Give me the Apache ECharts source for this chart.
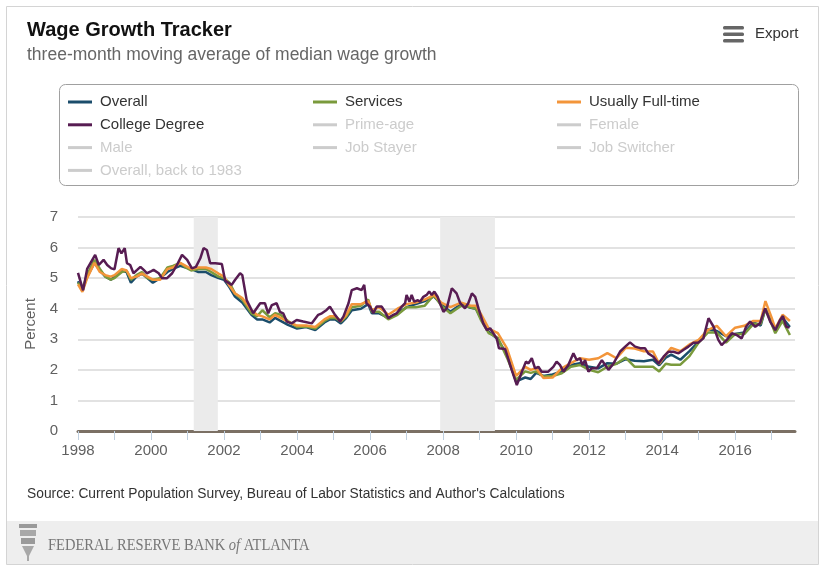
<!DOCTYPE html>
<html>
<head>
<meta charset="utf-8">
<script src="https://cdn.jsdelivr.net/npm/echarts@6/dist/echarts.min.js"></script>
<style>
html,body{margin:0;padding:0;background:#fff;}
#c{width:827px;height:574px;}
</style>
</head>
<body>
<div id="c"></div>
<script>
// ---- data (decimal years, percent) ----
const baseDates = [1998.00,1998.12,1998.25,1998.45,1998.6,1998.75,1998.9,1999.0,1999.2,1999.33,1999.45,1999.6,1999.75,1999.9,2000.05,2000.25,2000.45,2000.6,2000.8,2000.95,2001.1,2001.3,2001.5,2001.65,2001.85,2002.0,2002.15,2002.3,2002.5,2002.75,2002.9,2003.05,2003.25,2003.4,2003.55,2003.75,2004.0,2004.25,2004.5,2004.75,2004.9,2005.05,2005.2,2005.35,2005.5,2005.75,2005.95,2006.05,2006.25,2006.5,2006.75,2007.0,2007.25,2007.5,2007.75,2007.95,2008.2,2008.5,2008.75,2008.9,2009.05,2009.25,2009.5,2009.75,2010.0,2010.25,2010.4,2010.55,2010.75,2011.0,2011.25,2011.5,2011.75,2012.0,2012.25,2012.5,2012.75,2013.0,2013.25,2013.5,2013.75,2013.92,2014.1,2014.25,2014.5,2014.75,2015.0,2015.25,2015.5,2015.75,2016.0,2016.25,2016.5,2016.7,2016.83,2017.0,2017.1,2017.3,2017.5];
const overall = [4.9,4.6,5.05,5.5,5.25,5.05,4.95,5.05,5.25,5.2,4.85,5.05,5.15,5.0,4.85,5.0,5.2,5.3,5.4,5.35,5.3,5.2,5.2,5.1,5.0,4.95,4.7,4.4,4.2,3.8,3.65,3.65,3.55,3.7,3.6,3.47,3.35,3.4,3.3,3.55,3.65,3.65,3.52,3.7,3.95,4.0,4.15,3.85,3.85,3.7,3.85,4.05,4.15,4.25,4.4,4.15,3.9,4.15,4.03,4.0,3.65,3.25,3.0,2.5,1.62,1.75,1.7,1.9,1.8,1.85,1.95,2.16,2.22,2.1,2.05,2.22,2.2,2.35,2.3,2.28,2.33,2.15,2.4,2.5,2.33,2.61,2.92,3.33,3.27,3.1,3.17,3.22,3.55,3.45,4.0,3.55,3.25,3.7,3.4];
const services = [4.85,4.65,5.1,5.6,5.3,5.05,4.95,5.0,5.2,5.25,4.95,5.1,5.2,5.0,4.95,5.0,5.35,5.4,5.5,5.35,5.25,5.3,5.3,5.2,5.05,5.0,4.85,4.5,4.3,3.85,3.75,3.95,3.72,3.85,3.8,3.6,3.4,3.42,3.35,3.6,3.7,3.7,3.58,3.75,4.05,4.1,4.3,3.9,3.9,3.65,3.8,4.05,4.05,4.1,4.45,4.1,3.85,4.1,4.05,4.0,3.6,3.2,3.05,2.4,1.67,1.95,1.9,1.95,1.78,1.8,1.89,2.1,2.16,2.0,1.92,2.1,2.2,2.4,2.1,2.1,2.1,1.95,2.2,2.17,2.17,2.45,2.89,3.22,3.22,2.89,3.17,3.17,3.5,3.5,4.0,3.5,3.2,3.6,3.14];
const fullTime = [4.8,4.55,5.0,5.5,5.2,5.1,5.05,5.1,5.3,5.25,5.0,5.05,5.15,5.05,4.95,4.95,5.3,5.35,5.5,5.4,5.3,5.35,5.35,5.3,5.15,5.05,4.75,4.5,4.35,3.95,3.8,3.75,3.65,3.8,3.7,3.58,3.45,3.45,3.4,3.65,3.75,3.75,3.6,3.8,4.15,4.15,4.25,3.95,4.05,3.8,4.0,4.15,4.2,4.3,4.45,4.2,4.05,4.2,4.1,4.1,3.8,3.35,3.2,2.7,1.8,2.1,2.0,2.05,1.73,1.75,2.05,2.22,2.38,2.33,2.38,2.55,2.38,2.72,2.7,2.61,2.6,2.2,2.5,2.72,2.61,2.83,2.98,3.3,3.44,3.1,3.38,3.44,3.6,3.6,4.25,3.71,3.35,3.8,3.6];
const collegeDates = [1998.0,1998.14,1998.25,1998.47,1998.57,1998.7,1998.8,1998.91,1999.0,1999.11,1999.19,1999.28,1999.34,1999.43,1999.52,1999.62,1999.71,1999.8,1999.89,1999.98,2000.07,2000.21,2000.3,2000.44,2000.58,2000.71,2000.85,2000.99,2001.12,2001.23,2001.35,2001.44,2001.53,2001.62,2001.76,2001.94,2002.03,2002.21,2002.3,2002.44,2002.5,2002.62,2002.8,2002.99,2003.12,2003.21,2003.31,2003.44,2003.53,2003.62,2003.72,2003.85,2003.99,2004.17,2004.4,2004.58,2004.68,2004.81,2004.9,2005.04,2005.18,2005.27,2005.41,2005.5,2005.64,2005.77,2005.84,2005.9,2006.0,2006.09,2006.18,2006.32,2006.41,2006.5,2006.64,2006.73,2006.87,2006.96,2007.0,2007.08,2007.14,2007.21,2007.31,2007.37,2007.46,2007.55,2007.62,2007.69,2007.76,2007.85,2007.95,2008.01,2008.1,2008.24,2008.37,2008.47,2008.6,2008.69,2008.79,2008.88,2008.97,2009.1,2009.2,2009.29,2009.38,2009.47,2009.53,2009.7,2009.88,2010.02,2010.16,2010.27,2010.34,2010.43,2010.52,2010.61,2010.7,2010.88,2011.02,2011.11,2011.2,2011.3,2011.43,2011.57,2011.66,2011.75,2011.82,2011.89,2011.98,2012.07,2012.21,2012.35,2012.44,2012.53,2012.67,2012.85,2012.99,2013.12,2013.26,2013.4,2013.53,2013.62,2013.76,2013.9,2014.04,2014.17,2014.31,2014.45,2014.58,2014.72,2014.86,2014.99,2015.13,2015.27,2015.41,2015.54,2015.63,2015.77,2015.91,2016.04,2016.18,2016.3,2016.41,2016.55,2016.68,2016.82,2016.96,2017.1,2017.23,2017.31,2017.4,2017.49];
const college = [5.17,4.6,5.3,5.76,5.43,5.6,5.43,5.32,5.29,5.98,5.81,5.98,5.49,5.43,5.16,5.27,5.37,5.27,5.16,5.21,5.27,5.16,5.0,5.0,5.16,5.43,5.76,5.6,5.32,5.37,5.65,5.98,5.92,5.49,5.49,5.46,4.92,4.78,4.94,5.16,5.1,4.28,3.85,4.18,4.18,3.85,4.12,4.18,3.9,3.85,3.58,3.52,3.63,3.58,3.52,3.8,3.85,3.96,4.07,3.8,3.58,3.74,4.18,4.61,4.67,4.61,4.78,4.18,4.07,3.85,4.07,4.07,3.9,3.69,3.8,3.85,4.07,4.18,4.45,4.23,4.45,4.23,4.28,4.23,4.39,4.45,4.56,4.45,4.56,4.39,4.07,3.9,4.01,4.67,4.5,4.18,4.01,4.18,4.5,4.39,4.01,3.52,3.3,3.36,3.19,3.03,2.71,2.68,2.0,1.5,1.94,2.27,2.21,2.38,2.05,2.1,1.94,1.94,2.1,2.27,2.16,1.94,2.16,2.54,2.32,2.38,2.16,2.32,1.94,2.05,2.05,2.32,2.16,2.0,2.21,2.6,2.76,2.9,2.76,2.71,2.71,2.54,2.43,2.21,2.43,2.59,2.59,2.54,2.65,2.76,2.89,2.89,3.03,3.69,3.41,2.98,2.81,2.98,3.2,3.14,3.03,3.41,3.58,3.41,3.52,4.01,3.58,3.3,3.63,3.76,3.41,3.38];
const recessions = [[2001.17, 2001.83], [2007.92, 2009.42]];
const tickYears = [1998,1999,2000,2001,2002,2003,2004,2005,2006,2007,2008,2009,2010,2011,2012,2013,2014,2015,2016,2017];
const labelYears = [1998,2000,2002,2004,2006,2008,2010,2012,2014,2016];
const seriesNames = ['Overall','Services','Usually Full-time','College Degree','Prime-age','Female','Male','Job Stayer','Job Switcher','Overall, back to 1983'];
const activeNames = ['Overall','Services','Usually Full-time','College Degree'];
const legendCols = [
  ['Overall','College Degree','Male','Overall, back to 1983'],
  ['Services','Prime-age','Job Stayer'],
  ['Usually Full-time','Female','Job Switcher']
];

const FONT = '"Liberation Sans", Arial, sans-serif';
const colors = {'Overall':'#1b4d6b','Services':'#7a9a3c','Usually Full-time':'#f3953a','College Degree':'#571c52'};

const pairs = (xs, ys) => xs.map((x, i) => [x, ys[i]]);
const dataFor = {
  'Overall': pairs(baseDates, overall),
  'Services': pairs(baseDates, services),
  'Usually Full-time': pairs(baseDates, fullTime),
  'College Degree': pairs(collegeDates, college)
};

const selected = {};
seriesNames.forEach(n => selected[n] = activeNames.includes(n));

const series = seriesNames.map(n => {
  const s = {
    name: n, type: 'line', showSymbol: false, symbol: 'none',
    data: dataFor[n] || [],
    color: colors[n] || '#999',
    lineStyle: { width: 2.5, color: colors[n] || '#999' },
    emphasis: { disabled: true },
    animation: false
  };
  if (n === 'Overall') {
    s.markArea = {
      silent: true,
      itemStyle: { color: '#ebebeb' },
      data: recessions.map(r => [{ xAxis: r[0] }, { xAxis: r[1] }])
    };
  }
  return s;
});

const chart = echarts.init(document.getElementById('c'));
chart.setOption({
  animation: false,
  backgroundColor: '#fff',
  textStyle: { fontFamily: FONT },
  grid: { left: 78, right: 32, top: 217, bottom: 143 },
  xAxis: {
    type: 'value', min: 1998, max: 2017.64, interval: 1,
    axisLine: { show: true, lineStyle: { color: '#7b7064', width: 3 } },
    axisTick: { show: true, customValues: tickYears, length: 9, lineStyle: { color: '#c0d0e0', width: 1 } },
    axisLabel: { customValues: labelYears, color: '#606060', fontSize: 15, fontFamily: FONT, margin: 12, formatter: v => String(v) },
    splitLine: { show: false }
  },
  yAxis: {
    type: 'value', min: 0, max: 7, interval: 1,
    name: 'Percent', nameLocation: 'middle', nameGap: 40, nameRotate: 90,
    nameTextStyle: { color: '#606060', fontSize: 15, fontFamily: FONT },
    axisLine: { show: false }, axisTick: { show: false },
    axisLabel: { color: '#606060', fontSize: 15, fontFamily: FONT, margin: 20 },
    splitLine: { lineStyle: { color: '#d8d8d8', width: 1.5 } }
  },
  legend: legendCols.map((col, i) => ({
    orient: 'vertical', left: [68, 313, 557][i], top: 94,
    data: col, icon: 'rect', itemWidth: 24, itemHeight: 3, itemGap: 6.8, padding: 0,
    selected: selected, inactiveColor: '#cccccc', selectedMode: true,
    textStyle: { fontSize: 15, color: '#333', fontFamily: FONT, padding: [0, 0, 0, 3], lineHeight: 16 }
  })),
  graphic: [
    { type: 'rect', z: -10, silent: true, shape: { x: 6.5, y: 6.5, width: 812, height: 558 }, style: { fill: '#fff', stroke: '#d4d4d4', lineWidth: 1 } },
    { type: 'rect', z: -9, silent: true, shape: { x: 7, y: 521, width: 811, height: 43 }, style: { fill: '#eeeeee' } },
    { type: 'text', left: 27, top: 20, silent: true, style: { text: 'Wage Growth Tracker', font: 'bold 20px ' + FONT, fill: '#111' } },
    { type: 'text', left: 27, top: 46, silent: true, style: { text: 'three-month moving average of median wage growth', font: '17.5px ' + FONT, fill: '#666' } },
    { type: 'rect', silent: true, shape: { x: 723, y: 26, width: 21, height: 3.5, r: 1.5 }, style: { fill: '#666' } },
    { type: 'rect', silent: true, shape: { x: 723, y: 32.5, width: 21, height: 3.5, r: 1.5 }, style: { fill: '#666' } },
    { type: 'rect', silent: true, shape: { x: 723, y: 39, width: 21, height: 3.5, r: 1.5 }, style: { fill: '#666' } },
    { type: 'text', left: 755, top: 26, silent: true, style: { text: 'Export', font: '15px ' + FONT, fill: '#333' } },
    { type: 'rect', z: -5, silent: true, shape: { x: 59.5, y: 84.5, width: 739, height: 101, r: 6 }, style: { fill: '#fff', stroke: '#a0a0a0', lineWidth: 1 } },
    { type: 'text', left: 27, top: 487, silent: true, style: { text: "Source: Current Population Survey, Bureau of Labor Statistics and Author's Calculations", font: '13.8px ' + FONT, fill: '#333' } },
    // footer emblem (simplified)
    { type: 'group', left: 19, top: 524, silent: true, children: [
      { type: 'rect', shape: { x: 0, y: 0, width: 18, height: 4 }, style: { fill: '#9a9a9a' } },
      { type: 'rect', shape: { x: 1, y: 6, width: 16, height: 6 }, style: { fill: '#a8a8a8' } },
      { type: 'rect', shape: { x: 2, y: 14, width: 14, height: 6 }, style: { fill: '#9a9a9a' } },
      { type: 'polygon', shape: { points: [[3, 22], [15, 22], [10, 32], [8, 32]] }, style: { fill: '#a8a8a8' } },
      { type: 'rect', shape: { x: 8, y: 32, width: 2, height: 5 }, style: { fill: '#a8a8a8' } }
    ] },
    { type: 'text', left: 48, top: 536, silent: true, scaleX: 0.83, style: {
      text: '{a|FEDERAL RESERVE BANK }{b|of}{a| ATLANTA}',
      rich: {
        a: { font: '17.5px "Liberation Serif", "DejaVu Serif", serif', fill: '#777' },
        b: { font: 'italic 17.5px "Liberation Serif", "DejaVu Serif", serif', fill: '#777' }
      }
    } }
  ],
  series: series
});
</script>
</body>
</html>
